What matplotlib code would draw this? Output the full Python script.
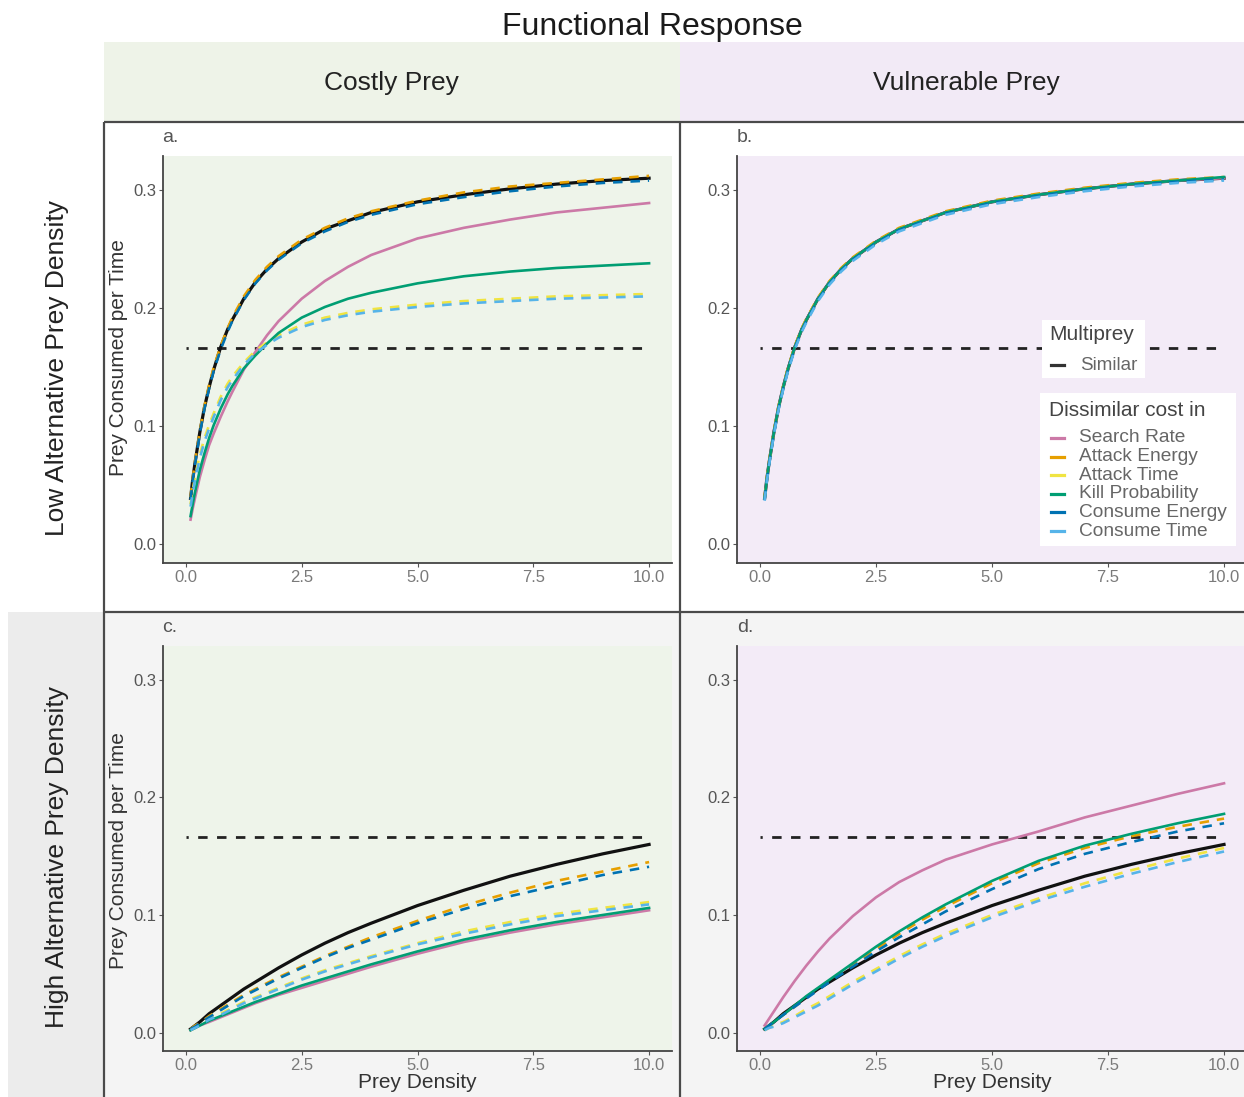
import matplotlib
matplotlib.use("Agg")
import matplotlib.pyplot as plt
from matplotlib.patches import Rectangle

plt.rcParams['font.family'] = ['Liberation Sans', 'DejaVu Sans']

# ---------------- data ----------------
prey_density_low = [0.1, 0.15, 0.2, 0.3, 0.4, 0.5, 0.6, 0.75, 0.9, 1.0, 1.25, 1.5, 1.75, 2.0,
                    2.5, 3.0, 3.5, 4.0, 5.0, 6.0, 7.0, 8.0, 9.0, 10.0]
prey_density_high = [0.1, 0.2, 0.3, 0.5, 0.75, 1.0, 1.25, 1.5, 2.0, 2.5, 3.0, 3.5, 4.0,
                     5.0, 6.0, 7.0, 8.0, 9.0, 10.0]
reference_level = 0.1667
x_ticks = [0.0, 2.5, 5.0, 7.5, 10.0]
y_ticks = [0.0, 0.1, 0.2, 0.3]

series_names = ["Search Rate", "Attack Energy", "Attack Time", "Kill Probability",
                "Consume Energy", "Consume Time"]
series_colors = ["#CC79A7", "#E69F00", "#F0E442", "#009E73", "#0072B2", "#56B4E9"]
series_dashed = [False, True, True, False, True, True]
similar_name = "Similar"

column_labels = ["Costly Prey", "Vulnerable Prey"]
row_labels = ["Low Alternative Prey Density", "High Alternative Prey Density"]
panel_tags = ["a.", "b.", "c.", "d."]

# panel a: costly prey, low alternative prey density
a_similar          = [0.039, 0.056, 0.070, 0.095, 0.116, 0.133, 0.148, 0.167, 0.182, 0.190, 0.208, 0.222, 0.233, 0.242, 0.256, 0.267, 0.274, 0.281, 0.290, 0.296, 0.301, 0.305, 0.308, 0.310]
a_search_rate      = [0.021, 0.031, 0.040, 0.057, 0.071, 0.084, 0.094, 0.108, 0.121, 0.129, 0.148, 0.163, 0.177, 0.189, 0.208, 0.223, 0.235, 0.245, 0.259, 0.268, 0.275, 0.281, 0.285, 0.289]
a_attack_energy    = [0.040, 0.057, 0.071, 0.096, 0.117, 0.135, 0.150, 0.168, 0.183, 0.192, 0.210, 0.224, 0.235, 0.244, 0.258, 0.268, 0.276, 0.282, 0.291, 0.298, 0.303, 0.306, 0.309, 0.312]
a_attack_time      = [0.034, 0.047, 0.058, 0.076, 0.090, 0.101, 0.111, 0.125, 0.136, 0.142, 0.154, 0.164, 0.171, 0.177, 0.186, 0.192, 0.196, 0.199, 0.203, 0.206, 0.208, 0.210, 0.211, 0.212]
a_kill_probability = [0.024, 0.035, 0.045, 0.063, 0.077, 0.090, 0.101, 0.115, 0.127, 0.134, 0.149, 0.160, 0.170, 0.179, 0.192, 0.201, 0.208, 0.213, 0.221, 0.227, 0.231, 0.234, 0.236, 0.238]
a_consume_energy   = [0.038, 0.055, 0.069, 0.094, 0.115, 0.132, 0.147, 0.165, 0.180, 0.189, 0.207, 0.221, 0.232, 0.241, 0.255, 0.265, 0.273, 0.279, 0.288, 0.294, 0.299, 0.303, 0.306, 0.308]
a_consume_time     = [0.032, 0.044, 0.055, 0.073, 0.087, 0.098, 0.108, 0.122, 0.133, 0.139, 0.152, 0.162, 0.169, 0.175, 0.184, 0.190, 0.194, 0.197, 0.201, 0.204, 0.206, 0.208, 0.209, 0.210]

# panel b: vulnerable prey, low alternative prey density
b_similar          = [0.039, 0.056, 0.070, 0.095, 0.116, 0.133, 0.148, 0.167, 0.182, 0.190, 0.208, 0.222, 0.233, 0.242, 0.256, 0.267, 0.274, 0.281, 0.290, 0.296, 0.301, 0.305, 0.308, 0.310]
b_search_rate      = [0.039, 0.056, 0.070, 0.095, 0.116, 0.133, 0.148, 0.167, 0.182, 0.190, 0.208, 0.222, 0.233, 0.242, 0.256, 0.267, 0.274, 0.281, 0.290, 0.296, 0.301, 0.305, 0.308, 0.310]
b_attack_energy    = [0.040, 0.057, 0.071, 0.096, 0.117, 0.134, 0.149, 0.168, 0.183, 0.191, 0.209, 0.223, 0.234, 0.243, 0.257, 0.268, 0.275, 0.282, 0.291, 0.297, 0.302, 0.306, 0.309, 0.311]
b_attack_time      = [0.039, 0.056, 0.070, 0.095, 0.116, 0.133, 0.148, 0.167, 0.182, 0.190, 0.208, 0.222, 0.233, 0.242, 0.256, 0.267, 0.274, 0.281, 0.290, 0.296, 0.301, 0.305, 0.308, 0.310]
b_kill_probability = [0.039, 0.056, 0.070, 0.095, 0.116, 0.133, 0.148, 0.167, 0.182, 0.190, 0.208, 0.222, 0.233, 0.242, 0.256, 0.267, 0.274, 0.281, 0.290, 0.296, 0.301, 0.305, 0.308, 0.311]
b_consume_energy   = [0.038, 0.055, 0.069, 0.094, 0.115, 0.132, 0.147, 0.166, 0.181, 0.189, 0.207, 0.221, 0.232, 0.241, 0.255, 0.266, 0.273, 0.280, 0.289, 0.295, 0.300, 0.304, 0.307, 0.309]
b_consume_time     = [0.037, 0.054, 0.068, 0.093, 0.114, 0.131, 0.146, 0.165, 0.180, 0.188, 0.206, 0.220, 0.231, 0.240, 0.254, 0.265, 0.272, 0.279, 0.288, 0.294, 0.299, 0.303, 0.306, 0.308]

# panel c: costly prey, high alternative prey density
c_similar          = [0.003, 0.006, 0.009, 0.016, 0.023, 0.030, 0.037, 0.043, 0.055, 0.066, 0.076, 0.085, 0.093, 0.108, 0.121, 0.133, 0.143, 0.152, 0.160]
c_search_rate      = [0.002, 0.004, 0.006, 0.009, 0.013, 0.017, 0.021, 0.025, 0.032, 0.038, 0.044, 0.050, 0.056, 0.067, 0.077, 0.085, 0.092, 0.098, 0.104]
c_attack_energy    = [0.003, 0.006, 0.008, 0.014, 0.020, 0.026, 0.032, 0.037, 0.047, 0.056, 0.065, 0.073, 0.081, 0.095, 0.108, 0.119, 0.129, 0.137, 0.145]
c_attack_time      = [0.002, 0.004, 0.007, 0.011, 0.016, 0.021, 0.026, 0.030, 0.038, 0.046, 0.053, 0.059, 0.065, 0.076, 0.086, 0.094, 0.101, 0.106, 0.111]
c_kill_probability = [0.002, 0.004, 0.006, 0.010, 0.014, 0.018, 0.022, 0.026, 0.033, 0.040, 0.046, 0.052, 0.058, 0.069, 0.079, 0.087, 0.094, 0.100, 0.106]
c_consume_energy   = [0.003, 0.005, 0.008, 0.013, 0.019, 0.025, 0.031, 0.036, 0.046, 0.055, 0.064, 0.072, 0.079, 0.093, 0.105, 0.116, 0.125, 0.134, 0.141]
c_consume_time     = [0.002, 0.004, 0.006, 0.011, 0.015, 0.020, 0.025, 0.029, 0.037, 0.045, 0.052, 0.058, 0.064, 0.075, 0.084, 0.092, 0.099, 0.104, 0.109]

# panel d: vulnerable prey, high alternative prey density
d_similar          = [0.003, 0.006, 0.009, 0.016, 0.023, 0.030, 0.037, 0.043, 0.055, 0.066, 0.076, 0.085, 0.093, 0.108, 0.121, 0.133, 0.143, 0.152, 0.160]
d_search_rate      = [0.006, 0.012, 0.018, 0.030, 0.044, 0.057, 0.069, 0.080, 0.099, 0.115, 0.128, 0.138, 0.147, 0.160, 0.171, 0.183, 0.193, 0.203, 0.212]
d_attack_energy    = [0.003, 0.006, 0.009, 0.015, 0.022, 0.030, 0.037, 0.044, 0.058, 0.071, 0.084, 0.096, 0.107, 0.127, 0.144, 0.157, 0.167, 0.175, 0.182]
d_attack_time      = [0.002, 0.004, 0.006, 0.009, 0.014, 0.020, 0.025, 0.031, 0.043, 0.054, 0.065, 0.075, 0.084, 0.100, 0.114, 0.127, 0.138, 0.148, 0.157]
d_kill_probability = [0.003, 0.006, 0.009, 0.015, 0.023, 0.031, 0.038, 0.045, 0.059, 0.073, 0.086, 0.098, 0.109, 0.129, 0.146, 0.159, 0.169, 0.178, 0.186]
d_consume_energy   = [0.003, 0.006, 0.009, 0.015, 0.022, 0.029, 0.036, 0.043, 0.056, 0.069, 0.081, 0.092, 0.103, 0.122, 0.139, 0.152, 0.162, 0.171, 0.178]
d_consume_time     = [0.002, 0.004, 0.005, 0.008, 0.013, 0.018, 0.023, 0.029, 0.041, 0.052, 0.063, 0.073, 0.082, 0.098, 0.112, 0.124, 0.135, 0.145, 0.154]

panels = [
    (prey_density_low, a_similar, [a_search_rate, a_attack_energy, a_attack_time, a_kill_probability, a_consume_energy, a_consume_time]),
    (prey_density_low, b_similar, [b_search_rate, b_attack_energy, b_attack_time, b_kill_probability, b_consume_energy, b_consume_time]),
    (prey_density_high, c_similar, [c_search_rate, c_attack_energy, c_attack_time, c_kill_probability, c_consume_energy, c_consume_time]),
    (prey_density_high, d_similar, [d_search_rate, d_attack_energy, d_attack_time, d_kill_probability, d_consume_energy, d_consume_time]),
]

# ---------------- layout ----------------
W, H = 1244, 1097
fig = plt.figure(figsize=(W / 100, H / 100), dpi=100)
fig.patch.set_facecolor("white")


def rect(l, t, r, b):
    return [l / W, 1 - b / H, (r - l) / W, (b - t) / H]


GREEN_BG = "#eef4ea"
PURPLE_BG = "#f3ebf7"
GREEN_STRIP = "#eef3e8"
PURPLE_STRIP = "#f2eaf6"

# background overlay
axbg = fig.add_axes([0, 0, 1, 1], zorder=-10)
axbg.set_xlim(0, W)
axbg.set_ylim(H, 0)
axbg.axis("off")
axbg.add_patch(Rectangle((104, 612), W - 104, H - 612, color="#f4f4f4", lw=0))
axbg.add_patch(Rectangle((104, 42), 576, 80, color=GREEN_STRIP, lw=0))
axbg.add_patch(Rectangle((680, 42), W - 680, 80, color=PURPLE_STRIP, lw=0))
axbg.add_patch(Rectangle((8, 612), 96, H - 612, color="#ececec", lw=0))

axes_rects = [(163, 156, 672, 563), (737, 156, 1247, 563),
              (163, 646, 672, 1051), (737, 646, 1247, 1051)]
facecols = [GREEN_BG, PURPLE_BG, GREEN_BG, PURPLE_BG]

for i, (l, t, r, b) in enumerate(axes_rects):
    ax = fig.add_axes(rect(l, t, r, b))
    ax.set_facecolor(facecols[i])
    xs, similar, others = panels[i]
    ax.plot([0, 10], [reference_level, reference_level], color="#222222", lw=2.0,
            ls=(2.6, (3.4, 3.4)), zorder=2)
    ax.plot(xs, similar, color="#111111", lw=2.3, zorder=3)
    for vals, col, dashed in zip(others, series_colors, series_dashed):
        ax.plot(xs, vals, color=col, lw=1.9,
                ls=(0, (3.6, 3.0)) if dashed else "-", zorder=4)
    ax.set_xlim(-0.495, 10.495)
    ax.set_ylim(-0.0157, 0.3288)
    ax.set_xticks(x_ticks)
    ax.set_xticklabels([f"{v:.1f}" for v in x_ticks])
    ax.set_yticks(y_ticks)
    ax.set_yticklabels([f"{v:.1f}" for v in y_ticks])
    for s in ["top", "right"]:
        ax.spines[s].set_visible(False)
    for s in ["left", "bottom"]:
        ax.spines[s].set_color("#444444")
        ax.spines[s].set_linewidth(1.3)
    ax.tick_params(axis="both", length=3, width=0.8, color="#555555", labelsize=12, pad=2)
    ax.tick_params(axis="x", labelcolor="#7a7a7a")
    ax.tick_params(axis="y", labelcolor="#555555")

# foreground overlay
axfg = fig.add_axes([0, 0, 1, 1], zorder=10)
axfg.set_xlim(0, W)
axfg.set_ylim(H, 0)
axfg.axis("off")

border = dict(color="#4a4a4a", lw=1.6, solid_capstyle="butt")
axfg.plot([104, W], [122, 122], **border)
axfg.plot([104, W], [612, 612], **border)
axfg.plot([104, 104], [122, H], **border)
axfg.plot([680, 680], [122, H], **border)

axfg.text(652, 27, "Functional Response", fontsize=23, ha="center", va="center", color="#1a1a1a")
axfg.text(391, 83, column_labels[0], fontsize=19, ha="center", va="center", color="#222222")
axfg.text(966, 83, column_labels[1], fontsize=19, ha="center", va="center", color="#222222")
axfg.text(57, 368, row_labels[0], fontsize=19, rotation=90, ha="center", va="center", color="#222222")
axfg.text(57, 857, row_labels[1], fontsize=19, rotation=90, ha="center", va="center", color="#222222")

for y in (358, 851):
    axfg.text(118, y, "Prey Consumed per Time", fontsize=15, rotation=90,
              ha="center", va="center", color="#333333")
for x in (417, 992):
    axfg.text(x, 1083, "Prey Density", fontsize=15, ha="center", va="center", color="#333333")

for tag, (x, y) in zip(panel_tags, [(170, 138), (745, 138), (170, 628), (745, 628)]):
    axfg.text(x, y, tag, fontsize=14, ha="center", va="center", color="#555555")

# legend: Multiprey
axfg.add_patch(Rectangle((1042, 320), 103, 58, facecolor="white", edgecolor="none", zorder=5))
axfg.text(1049, 335, "Multiprey", fontsize=15, ha="left", va="center", color="#444444", zorder=6)
axfg.plot([1051, 1064], [365, 365], color="#333333", lw=2.3, zorder=6)
axfg.text(1080, 365, similar_name, fontsize=13.5, ha="left", va="center", color="#666666", zorder=6)

# legend: Dissimilar cost in
axfg.add_patch(Rectangle((1040, 393), 196, 153, facecolor="white", edgecolor="none", zorder=5))
axfg.text(1049, 410, "Dissimilar cost in", fontsize=15, ha="left", va="center", color="#444444", zorder=6)
for k, (name, col) in enumerate(zip(series_names, series_colors)):
    yy = 438 + k * 18.6
    axfg.plot([1051, 1064], [yy, yy], color=col, lw=2.3, zorder=6)
    axfg.text(1079, yy, name, fontsize=13.8, ha="left", va="center", color="#666666", zorder=6)

fig.savefig("out.png", dpi=100)
